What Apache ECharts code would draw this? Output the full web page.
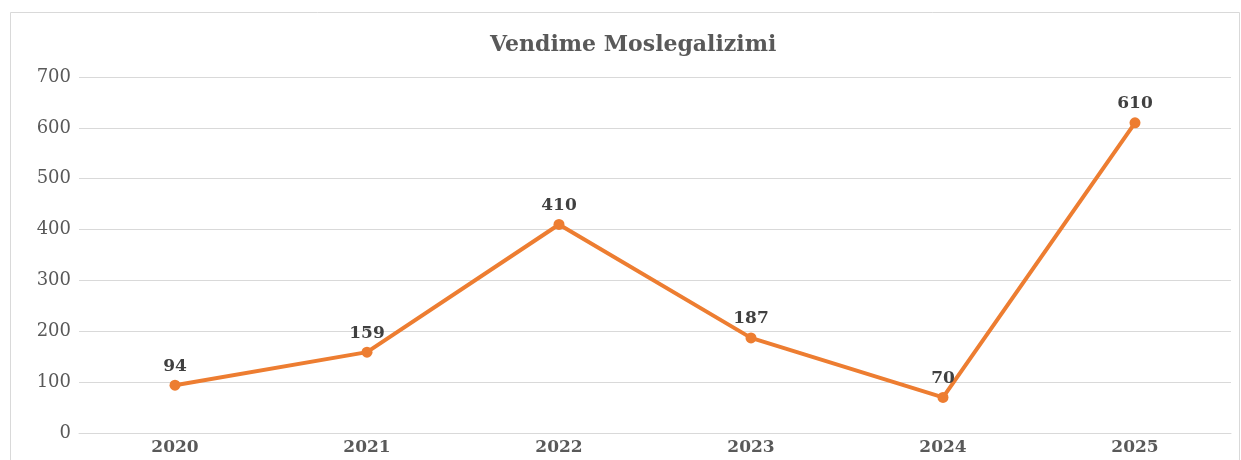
<!DOCTYPE html>
<html><head><meta charset="utf-8">
<script src="https://cdn.jsdelivr.net/npm/echarts@6/dist/echarts.min.js"></script>
<style>html,body{margin:0;padding:0;background:#fff}#c{width:1241px;height:460px}</style>
</head><body><div id="c"></div>
<script>
const title = 'Vendime Moslegalizimi';
const categories = ['2020','2021','2022','2023','2024','2025'];
const values = [94, 159, 410, 187, 70, 610];
const yTicks = {min: 0, max: 700, interval: 100};
const font = '"DejaVu Serif", serif';
const chart = echarts.init(document.getElementById('c'));
chart.setOption({
  animation: false,
  backgroundColor: '#fff',
  graphic: [{type:'rect', shape:{x:10.5,y:12.5,width:1229,height:460}, style:{fill:'none', stroke:'#d9d9d9', lineWidth:1}, silent:true}],
  title: {text: title, left: 485, top: 29, textStyle:{fontFamily: font, fontSize: 22, fontWeight:'bold', color:'#595959'}},
  grid: {left: 79, right: 10, top: 77, bottom: 27},
  xAxis: {type:'category', data: categories, boundaryGap: true,
    axisLine:{lineStyle:{color:'#d9d9d9', width:1}}, axisTick:{show:false},
    axisLabel:{fontFamily: font, fontSize: 17, fontWeight:'bold', color:'#595959', margin: 6}},
  yAxis: {type:'value', min: yTicks.min, max: yTicks.max, interval: yTicks.interval,
    axisLine:{show:false}, axisTick:{show:false},
    splitLine:{lineStyle:{color:'#d9d9d9', width:1}},
    axisLabel:{fontFamily: font, fontSize: 18, color:'#595959', margin: 8}},
  series: [{type:'line', data: values, symbol:'circle', symbolSize: 11,
    lineStyle:{color:'#ED7D31', width:4}, itemStyle:{color:'#ED7D31'},
    label:{show:true, position:'top', distance: 5, fontFamily: font, fontSize: 17, fontWeight:'bold', color:'#404040'}}]
});
</script></body></html>
